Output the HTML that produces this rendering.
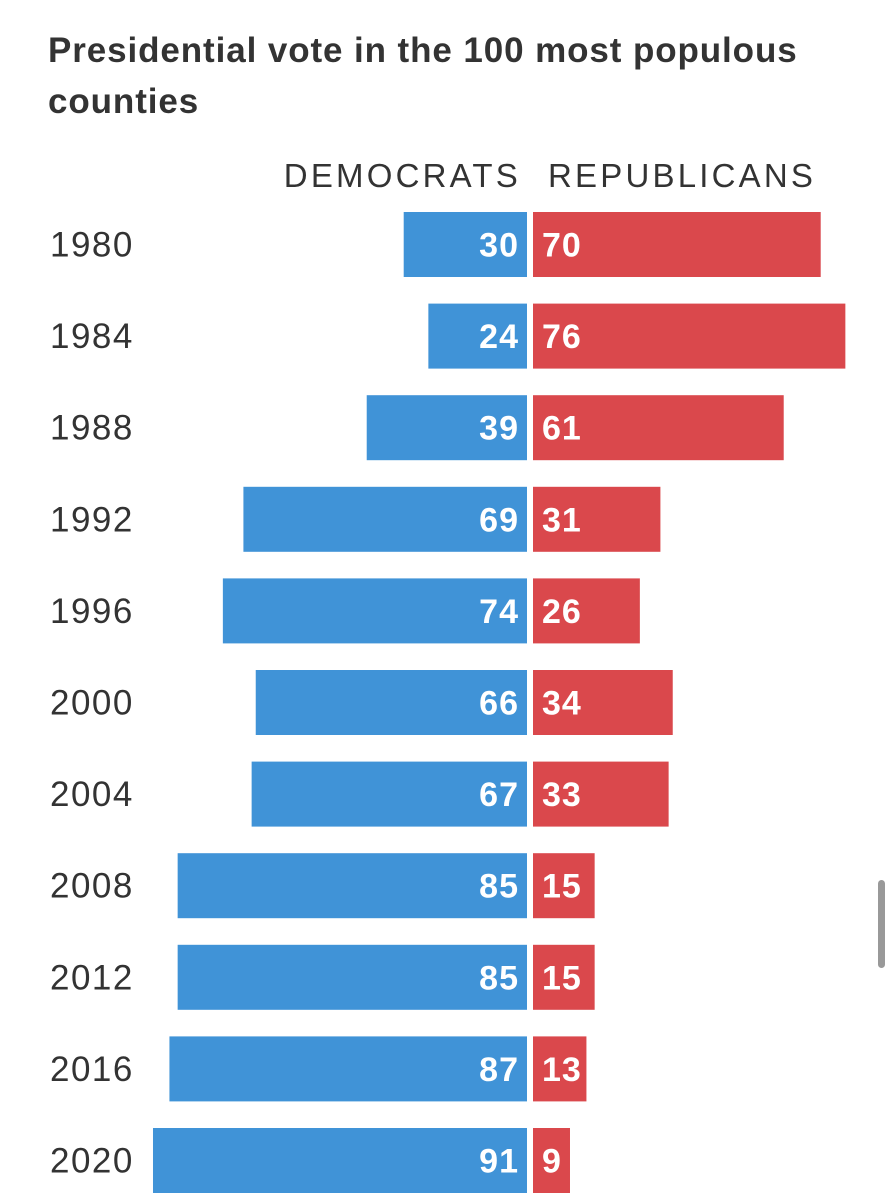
<!DOCTYPE html>
<html><head><meta charset="utf-8">
<style>
html,body{margin:0;padding:0;background:#fff;}
body{width:891px;height:1200px;position:relative;overflow:hidden;font-family:"Liberation Sans",sans-serif;}
#title{position:absolute;left:48px;top:25px;font-size:35px;font-weight:bold;color:#333;line-height:51px;letter-spacing:0.9px;white-space:nowrap;}
.hdr{position:absolute;top:157px;font-size:33px;color:#333;letter-spacing:3.2px;}
#scroll{position:absolute;left:878px;top:880px;width:7px;height:88px;background:#999;border-radius:4px;}
svg{position:absolute;left:0;top:0;}
</style></head><body>
<div id="title">Presidential vote in the 100 most populous<br>counties</div>
<div class="hdr" style="right:370px">DEMOCRATS</div>
<div class="hdr" style="left:548px">REPUBLICANS</div>
<div id="scroll"></div>
<svg id="chart" width="891" height="1200"></svg>
<script>
const years=["1980","1984","1988","1992","1996","2000","2004","2008","2012","2016","2020"];
const dem=[30,24,39,69,74,66,67,85,85,87,91];
const rep=[70,76,61,31,26,34,33,15,15,13,9];
const svg=document.getElementById('chart');
const NS='http://www.w3.org/2000/svg';
const scale=4.11, demEnd=527, repStart=533, top0=212, pitch=91.6, bh=65;
function x(v){return v*scale;}
function y(i){return top0+i*pitch;}
function mk(t,a){const e=document.createElementNS(NS,t);for(const k in a)e.setAttribute(k,a[k]);svg.appendChild(e);return e;}
years.forEach((yr,i)=>{
  const t=mk('text',{x:50,y:y(i)+bh/2+12,'font-size':35,'letter-spacing':1.5,fill:'#333','font-family':'Liberation Sans, sans-serif'});
  t.textContent=yr;
  
  
  const b=mk('rect',{x:demEnd-x(dem[i]),y:y(i),width:x(dem[i]),height:bh,fill:'#4093d7'});
  
  
  const r=mk('rect',{x:repStart,y:y(i),width:x(rep[i]),height:bh,fill:'#da484c'});
  
  
  const dt=mk('text',{x:demEnd-8,y:y(i)+bh/2+12,'font-size':34,'font-weight':'bold','letter-spacing':1,fill:'#fff','text-anchor':'end','font-family':'Liberation Sans, sans-serif'});
  dt.textContent=dem[i];
  
  
  const rt=mk('text',{x:repStart+9,y:y(i)+bh/2+12,'font-size':34,'font-weight':'bold','letter-spacing':1,fill:'#fff','font-family':'Liberation Sans, sans-serif'});
  rt.textContent=rep[i];
  
  
});
</script>
</body></html>
